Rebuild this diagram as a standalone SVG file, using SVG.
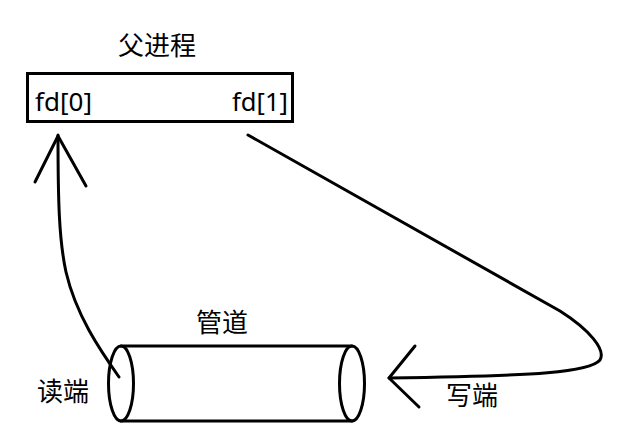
<svg xmlns="http://www.w3.org/2000/svg" width="640" height="434" viewBox="0 0 640 434">
<style>
text { font-family: "Noto Sans", "Noto Sans CJK SC", sans-serif; font-size: 26px; fill: #000; }
.ln { fill: none; stroke: #000; stroke-width: 3; stroke-linecap: round; stroke-linejoin: round; }
</style>
<rect width="640" height="434" fill="#fff"/>
<g id="parent">
<text x="157" y="55" text-anchor="middle">父进程</text>
<rect x="27.5" y="73.5" width="265" height="48" fill="none" stroke="#000" stroke-width="3"/>
<text x="35" y="111" textLength="57" lengthAdjust="spacingAndGlyphs">fd[0]</text>
<text x="232" y="111" textLength="56" lengthAdjust="spacingAndGlyphs">fd[1]</text>
</g>
<g id="pipe">
<text x="222" y="332" text-anchor="middle">管道</text>
<line class="ln" x1="121" y1="346" x2="352" y2="346"/>
<line class="ln" x1="121" y1="421" x2="352" y2="421"/>
<ellipse class="ln" cx="121" cy="383.5" rx="12.5" ry="37.5" fill="#fff"/>
<ellipse class="ln" cx="352" cy="383.5" rx="12.5" ry="37.5" fill="#fff"/>
</g>
<g id="labels">
<text x="37" y="401">读端</text>
<text x="446" y="405">写端</text>
</g>
<g id="connectors">
<path class="ln" d="M119,377 C100,350 76,315 66,272 C59,240 58,200 58,135"/>
<path class="ln" d="M35,182 L58,136 L86,186"/>
<path class="ln" d="M248,135 L560,311 C590,330 606,350 600,360 C590,372 540,376 389,378"/>
<path class="ln" d="M415,346 L389,378 L419,407"/>
</g>
</svg>
